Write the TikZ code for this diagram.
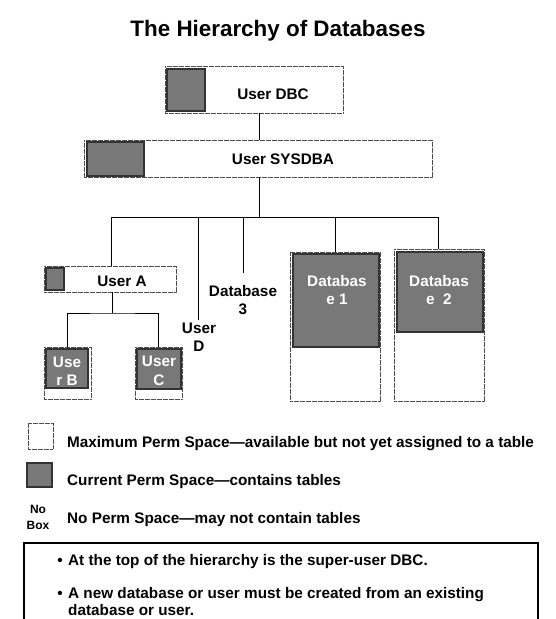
\documentclass[tikz,border=0pt]{standalone}
\usepackage{fontspec}
\setmainfont{Liberation Sans}
\begin{document}
\begin{tikzpicture}[x=1pt,y=-1pt,
  maxbox/.style={draw=black!70, dash pattern=on 0.7pt off 0.5pt, line width=1pt, rectangle, inner sep=0pt, outer sep=0pt},
  curbox/.style={draw=black!80, fill=black!53, line width=1.2pt, rectangle, inner sep=0pt, outer sep=0pt},
  lbl/.style={font=\fontsize{15.3}{18.5}\selectfont\bfseries, align=center, inner sep=0pt},
  wlbl/.style={lbl, text=white},
  txt/.style={font=\fontsize{15.3}{17}\selectfont\bfseries, inner sep=0pt, anchor=base west},
  conn/.style={draw=black, line width=0.8pt}]
\useasboundingbox (0,0) rectangle (555,619);

% title
\node[font=\fontsize{22.4}{26}\selectfont\bfseries, inner sep=0pt, anchor=base] (title) at (278,36) {The Hierarchy of Databases};

% User DBC
\node[maxbox, minimum width=178pt, minimum height=47pt] (dbc) at (254,89.5) {};
\node[curbox, minimum width=38pt, minimum height=42pt] (dbcg) at (186,90) {};
\node[lbl] (dbct) at (273,94) {User DBC};

% User SYSDBA
\node[maxbox, minimum width=348pt, minimum height=37pt] (sys) at (258,158.5) {};
\node[curbox, minimum width=57pt, minimum height=34pt] (sysg) at (115.5,159) {};
\node[lbl] (syst) at (283,159) {User SYSDBA};

% User A
\node[maxbox, minimum width=132pt, minimum height=26pt] (ua) at (110,279) {};
\node[curbox, minimum width=18pt, minimum height=22pt] (uag) at (55,279) {};
\node[lbl] (uat) at (122,281) {User A};

% User B, User C
\node[maxbox, minimum width=47pt, minimum height=52pt] (ub) at (67.5,373) {};
\node[curbox, minimum width=42pt, minimum height=39pt] (ubg) at (67,368.5) {};
\node[wlbl] (ubt) at (67,371) {Use\\r B};
\node[maxbox, minimum width=47pt, minimum height=52pt] (uc) at (158.5,373) {};
\node[curbox, minimum width=44pt, minimum height=40pt] (ucg) at (159,369) {};
\node[wlbl] (uct) at (159,371) {User\\C};

% Database 1, Database 2
\node[maxbox, minimum width=90pt, minimum height=149pt] (db1) at (335,326.5) {};
\node[curbox, minimum width=86pt, minimum height=93pt] (db1g) at (336,300.5) {};
\node[wlbl] (db1t) at (337,290) {Databas\\e 1};
\node[maxbox, minimum width=90pt, minimum height=152pt] (db2) at (439,325) {};
\node[curbox, minimum width=86pt, minimum height=80pt] (db2g) at (440,292) {};
\node[wlbl] (db2t) at (439,290) {Databas\\e\ \ 2};

% User D, Database 3 (no box)
\node[lbl, outer sep=2pt] (ud) at (199,337) {User\\D};
\node[lbl] (db3) at (243,300) {Database\\3};

% connectors
\coordinate (j0) at (259,217);
\coordinate (bl) at (111,217);
\coordinate (br) at (438,217);
\coordinate (ja) at (112,313);
\coordinate (db3end) at (243,273);
\draw[conn] (dbc.south -| j0) -- (sys.north -| j0);
\draw[conn] (sys.south -| j0) -- (j0);
\draw[conn] (ua.north -| bl) -- (bl) -- (br) -- (db2.north -| br);
\draw[conn] (db1.north) -- (db1.north |- bl);
\draw[conn] (ud.north -| 198,0) -- (198,217);
\draw[conn] (db3end) -- (db3end |- bl);
\draw[conn] (ua.south -| ja) -- (ja);
\draw[conn] (ub.north) |- (ja) -| (uc.north);

% legend
\node[maxbox, minimum width=25pt, minimum height=26pt] (lmax) at (40.5,436) {};
\node[curbox, minimum width=25pt, minimum height=24pt] (lcur) at (39.5,475) {};
\node[font=\fontsize{12}{16}\selectfont\bfseries, align=center, inner sep=0pt] (lno) at (38,517) {No\\Box};
\node[txt] (lmaxt) at (67,447) {Maximum Perm Space—available but not yet assigned to a table};
\node[txt] (lcurt) at (67,485) {Current Perm Space—contains tables};
\node[txt] (lnot) at (67,523) {No Perm Space—may not contain tables};

% notes box
\node[draw=black, line width=1.5pt, rectangle, minimum width=514pt, minimum height=97pt, inner sep=0pt] (notes) at (281,591.5) {};
\node[txt, anchor=base] (b1) at (60,565) {•};
\node[txt] (n1) at (68,565) {At the top of the hierarchy is the super-user DBC.};
\node[txt, anchor=base] (b2) at (60,598) {•};
\node[txt] (n2) at (68,598) {A new database or user must be created from an existing};
\node[txt] (n3) at (68,615) {database or user.};
\end{tikzpicture}
\end{document}
